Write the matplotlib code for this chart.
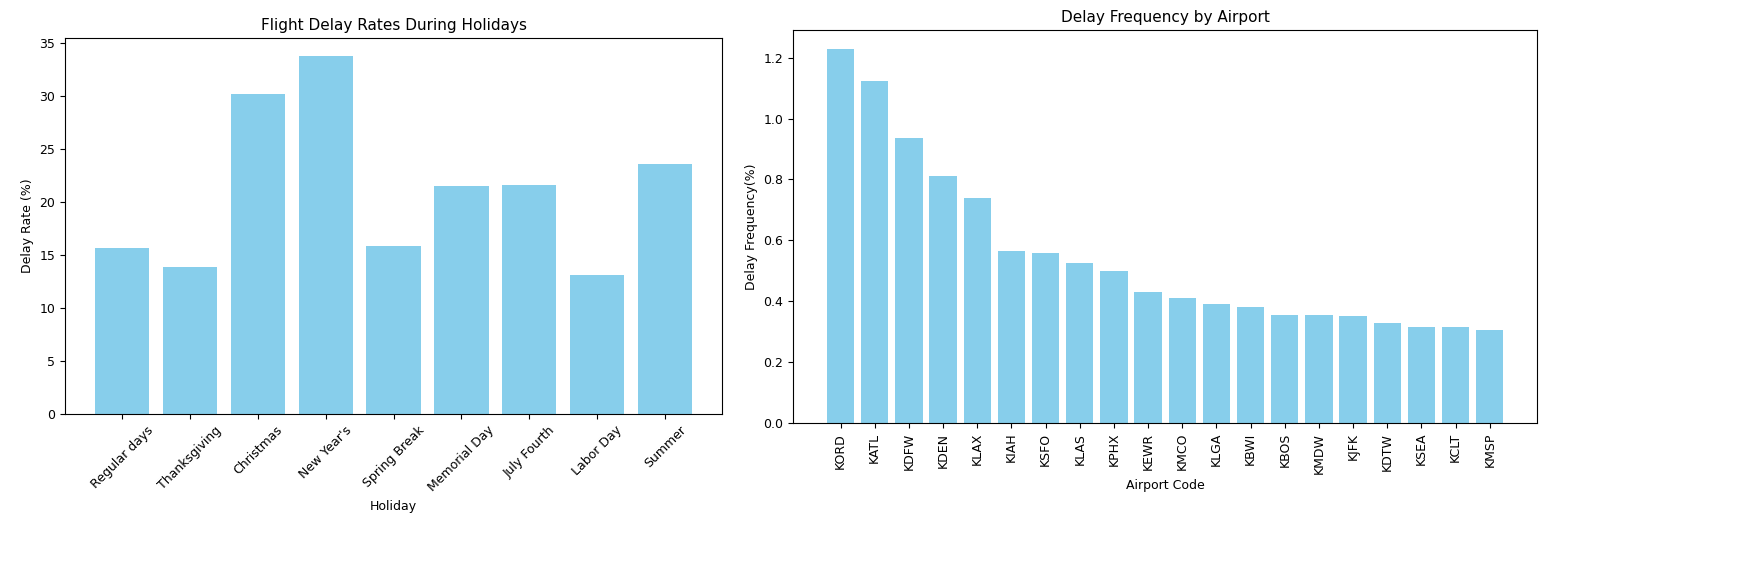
import matplotlib
matplotlib.use('Agg')
import matplotlib.pyplot as plt

holidays = ['Regular days', 'Thanksgiving', 'Christmas', "New Year's", 'Spring Break',
            'Memorial Day', 'July Fourth', 'Labor Day', 'Summer']
delay_rates = [15.7, 13.9, 30.2, 33.8, 15.8, 21.5, 21.6, 13.1, 23.6]

airports = ['KORD', 'KATL', 'KDFW', 'KDEN', 'KLAX', 'KIAH', 'KSFO', 'KLAS', 'KPHX', 'KEWR',
            'KMCO', 'KLGA', 'KBWI', 'KBOS', 'KMDW', 'KJFK', 'KDTW', 'KSEA', 'KCLT', 'KMSP']
delay_freq = [1.23, 1.125, 0.935, 0.81, 0.74, 0.565, 0.56, 0.525, 0.50, 0.43,
              0.41, 0.39, 0.38, 0.355, 0.355, 0.35, 0.33, 0.315, 0.315, 0.305]

plt.rcParams['font.size'] = 9
fig = plt.figure(figsize=(17.43, 5.74), dpi=100)

ax1 = fig.add_axes([0.0373, 0.279, 0.377, 0.655])
ax1.bar(holidays, delay_rates, color='skyblue')
ax1.set_title('Flight Delay Rates During Holidays', fontsize=11)
ax1.set_xlabel('Holiday')
ax1.set_ylabel('Delay Rate (%)')
ax1.tick_params(axis='x', labelrotation=45)

ax2 = fig.add_axes([0.455, 0.263, 0.427, 0.685])
ax2.bar(airports, delay_freq, color='skyblue')
ax2.set_title('Delay Frequency by Airport', fontsize=11)
ax2.set_xlabel('Airport Code')
ax2.set_ylabel('Delay Frequency(%)')
ax2.tick_params(axis='x', labelrotation=90)

fig.savefig('out.png', dpi=100)
